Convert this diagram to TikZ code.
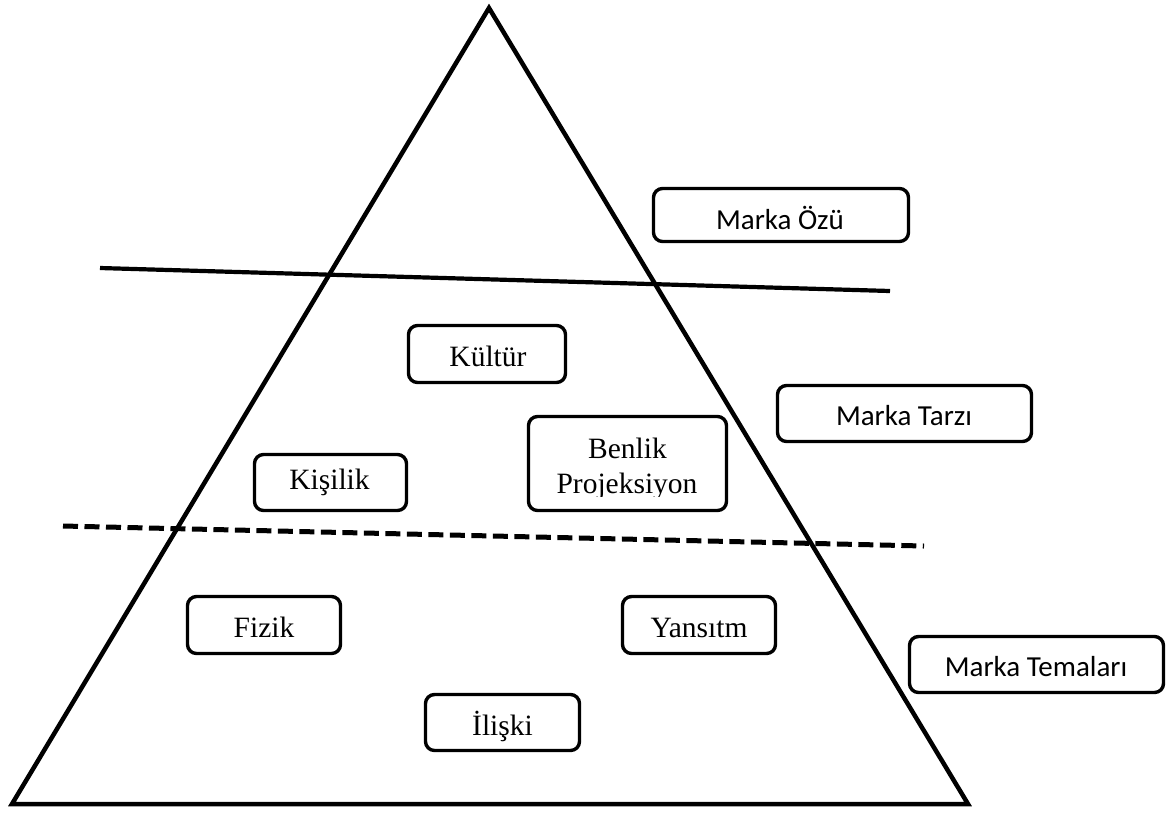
\documentclass[tikz,border=0pt]{standalone}
\usepackage{fontspec}
\setmainfont{Liberation Serif}
\newfontfamily\labelsans{Carlito}
\begin{document}
\begin{tikzpicture}[x=1pt,y=-1pt,
  box/.style={draw, line width=3.4pt, rounded corners=9pt, inner sep=0pt},
  seriftext/.style={anchor=base, inner sep=0pt, font=\fontsize{29.5}{35}\selectfont},
  sanstext/.style={anchor=base, inner sep=0pt, font=\labelsans\fontsize{29}{34}\selectfont},
  thick line/.style={line width=4.5pt},
]
\useasboundingbox (0,0) rectangle (1174,815);

% pyramid
\coordinate (apex) at (489,8);
\coordinate (bl) at (12,804);
\coordinate (br) at (968,804);
\draw[thick line, line join=miter] (apex) -- (bl) -- (br) -- cycle;

% level separators
\coordinate (s1) at (100,268);
\coordinate (s2) at (890,291);
\draw[line width=4.2pt] (s1) -- (s2);
\coordinate (d1) at (63,526);
\coordinate (d2) at (924,546);
\draw[line width=5pt, dash pattern=on 15pt off 6.5pt] (d1) -- (d2);

% level labels (right)
\node[box, minimum width=255pt, minimum height=53pt] (ozu) at (781,215) {};
\node[sanstext] (ozu-t) at (780,229) {Marka Özü};
\node[box, minimum width=254pt, minimum height=56pt] (tarz) at (904.5,413.5) {};
\node[sanstext] (tarz-t) at (904,425) {Marka Tarzı};
\node[box, minimum width=254pt, minimum height=56pt] (tema) at (1036.5,664.5) {};
\node[sanstext] (tema-t) at (1036,676) {Marka Temaları};

% facets inside the pyramid
\node[box, minimum width=157pt, minimum height=57pt] (kultur) at (487,354) {};
\node[seriftext] (kultur-t) at (488,366) {Kültür};

\node[box, minimum width=198pt, minimum height=94pt] (benlik) at (627.5,463.5) {};
\begin{scope}
  \clip (520,400) rectangle (735,496);
  \node[seriftext] (benlik-t) at (627.5,458) {Benlik};
  \node[seriftext] (proj-t) at (627,493) {Projeksiyon};
\end{scope}

\node[box, minimum width=152pt, minimum height=56pt] (kisilik) at (330.5,482.5) {};
\node[seriftext] (kisilik-t) at (329.5,489) {Kişilik};

\node[box, minimum width=153pt, minimum height=57pt] (fizik) at (264,625) {};
\node[seriftext] (fizik-t) at (264,637) {Fizik};

\node[box, minimum width=153pt, minimum height=57pt] (yansitm) at (699,625) {};
\node[seriftext] (yansitm-t) at (699,637) {Yansıtm};

\node[box, minimum width=154pt, minimum height=56pt] (iliski) at (502.5,722.5) {};
\node[seriftext] (iliski-t) at (502.5,735) {İlişki};
\end{tikzpicture}
\end{document}
